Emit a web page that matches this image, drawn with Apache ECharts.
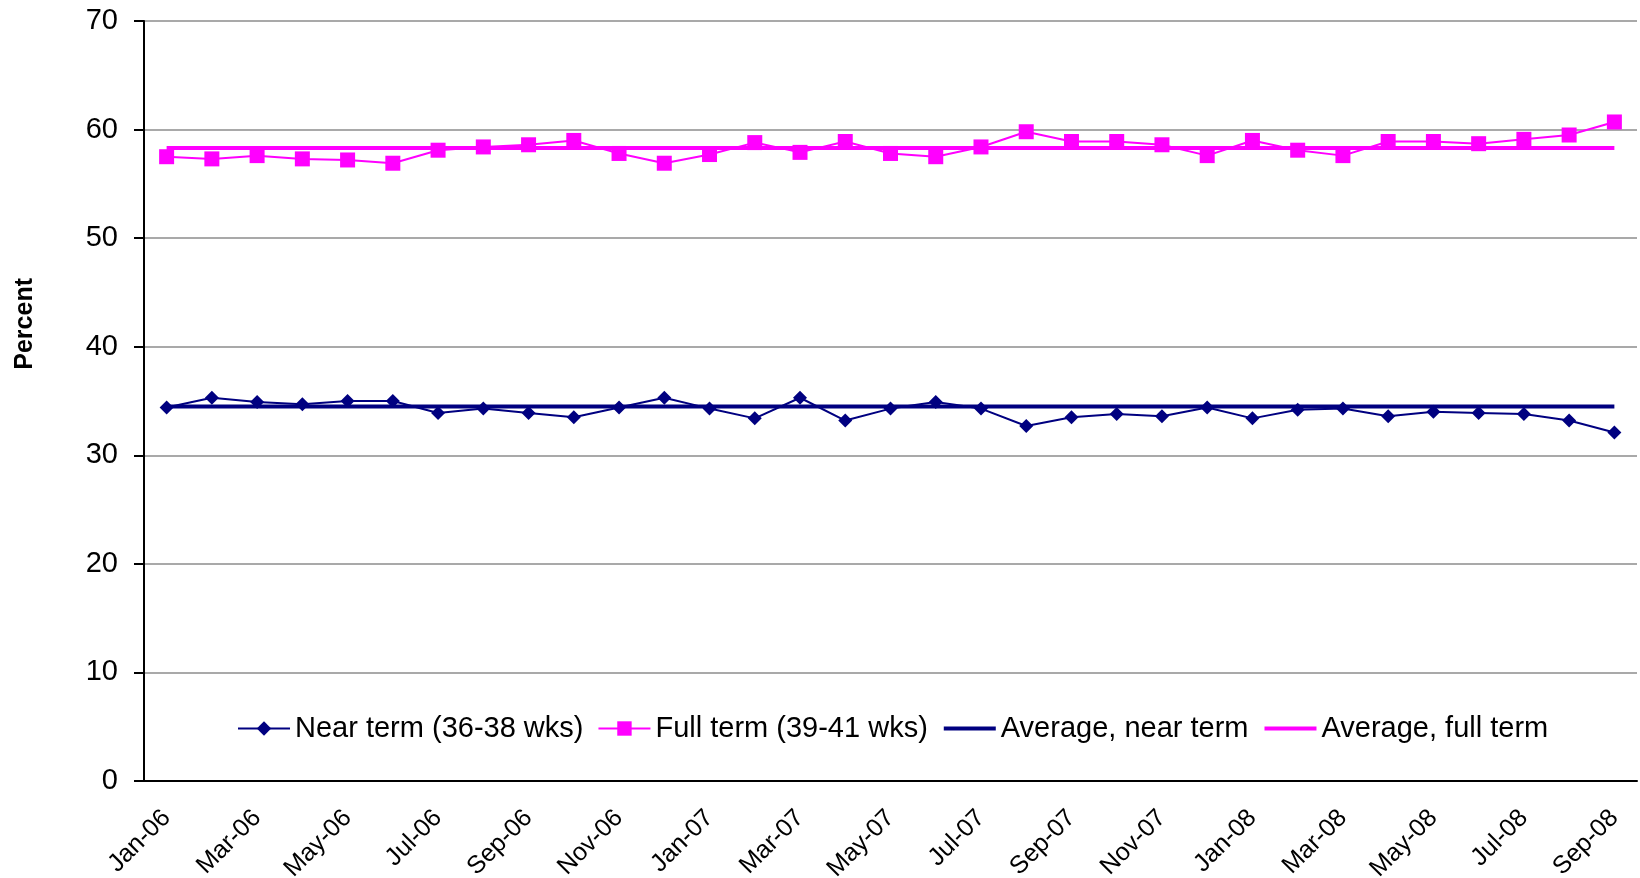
<!DOCTYPE html>
<html>
<head>
<meta charset="utf-8">
<script src="https://cdn.jsdelivr.net/npm/echarts@6/dist/echarts.min.js"></script>
<style>
  html, body { margin: 0; padding: 0; background: #fff; }
  #chart { width: 1640px; height: 878px; }
</style>
</head>
<body>
<div id="chart"></div>
<script>
const months = [
    'Jan-06', 'Feb-06', 'Mar-06', 'Apr-06', 'May-06', 'Jun-06', 'Jul-06', 'Aug-06', 'Sep-06', 'Oct-06', 'Nov-06', 'Dec-06',
    'Jan-07', 'Feb-07', 'Mar-07', 'Apr-07', 'May-07', 'Jun-07', 'Jul-07', 'Aug-07', 'Sep-07', 'Oct-07', 'Nov-07', 'Dec-07',
    'Jan-08', 'Feb-08', 'Mar-08', 'Apr-08', 'May-08', 'Jun-08', 'Jul-08', 'Aug-08', 'Sep-08'
];
const nearTerm = [
    34.4, 35.3, 34.9, 34.7, 35.0, 35.0, 33.9, 34.3, 33.9, 33.5, 34.4, 35.3,
    34.3, 33.4, 35.3, 33.2, 34.3, 34.9, 34.3, 32.7, 33.5, 33.8, 33.6, 34.4,
    33.4, 34.2, 34.3, 33.6, 34.0, 33.9, 33.8, 33.2, 32.1
];
const fullTerm = [
    57.5, 57.3, 57.6, 57.3, 57.2, 56.9, 58.1, 58.4, 58.6, 59.0, 57.8, 56.9,
    57.7, 58.8, 57.9, 58.9, 57.8, 57.5, 58.4, 59.8, 58.9, 58.9, 58.6, 57.6,
    59.0, 58.1, 57.6, 58.9, 58.9, 58.7, 59.1, 59.5, 60.7
];
const avgNear = 34.5;
const avgFull = 58.3;
const yTicks = { min: 0, max: 70, step: 10 };

const font = '"Liberation Sans", Arial, sans-serif';
const navy = '#000080';
const magenta = '#FF00FF';
const first = months[0];
const last = months[months.length - 1];

const chart = echarts.init(document.getElementById('chart'));
chart.setOption({
    backgroundColor: '#fff',
    animation: false,
    textStyle: { fontFamily: font },
    grid: { left: 144, right: 3, top: 21, bottom: 97, outerBoundsMode: 'none', containLabel: false },
    legend: {
        top: 709,
        left: 232,
        itemWidth: 52,
        itemHeight: 18,
        itemGap: 14,
        textStyle: { fontSize: 29, color: '#000', fontFamily: font },
        data: [
            'Near term (36-38 wks)',
            'Full term (39-41 wks)',
            { name: 'Average, near term', itemStyle: { opacity: 0 }, lineStyle: { width: 4 } },
            { name: 'Average, full term', itemStyle: { opacity: 0 }, lineStyle: { width: 4 } }
        ]
    },
    graphic: [{
        type: 'text',
        left: 13,
        top: 278,
        rotation: Math.PI / 2,
        style: { text: 'Percent', font: 'bold 25px ' + font, fill: '#000' }
    }],
    xAxis: {
        type: 'category',
        data: months,
        boundaryGap: true,
        axisLine: { lineStyle: { color: '#000', width: 2 } },
        axisTick: { interval: 1, length: 8, lineStyle: { color: '#000', width: 2 } },
        axisLabel: { interval: 1, rotate: 45, fontSize: 25, color: '#000', margin: 33 }
    },
    yAxis: {
        type: 'value',
        min: yTicks.min,
        max: yTicks.max,
        interval: yTicks.step,
        axisLine: { show: true, lineStyle: { color: '#000', width: 2 } },
        axisTick: { show: true, length: 10, lineStyle: { color: '#000', width: 2 } },
        axisLabel: { fontSize: 29, color: '#000', margin: 26 },
        splitLine: { lineStyle: { color: '#8c8c8c', width: 1.5 } }
    },
    series: [
        {
            name: 'Near term (36-38 wks)',
            type: 'line',
            data: nearTerm,
            symbol: 'diamond',
            symbolSize: 14,
            itemStyle: { color: navy },
            lineStyle: { color: navy, width: 2 },
            z: 4
        },
        {
            name: 'Full term (39-41 wks)',
            type: 'line',
            data: fullTerm,
            symbol: 'rect',
            symbolSize: 15,
            itemStyle: { color: magenta },
            lineStyle: { color: magenta, width: 2 },
            z: 4
        },
        {
            name: 'Average, near term',
            type: 'line',
            data: [[first, avgNear], [last, avgNear]],
            symbol: 'none',
            itemStyle: { color: navy },
            lineStyle: { color: navy, width: 4 },
            z: 3
        },
        {
            name: 'Average, full term',
            type: 'line',
            data: [[first, avgFull], [last, avgFull]],
            symbol: 'none',
            itemStyle: { color: magenta },
            lineStyle: { color: magenta, width: 4 },
            z: 3
        }
    ]
});
window.addEventListener('resize', () => chart.resize());
</script>
</body>
</html>
